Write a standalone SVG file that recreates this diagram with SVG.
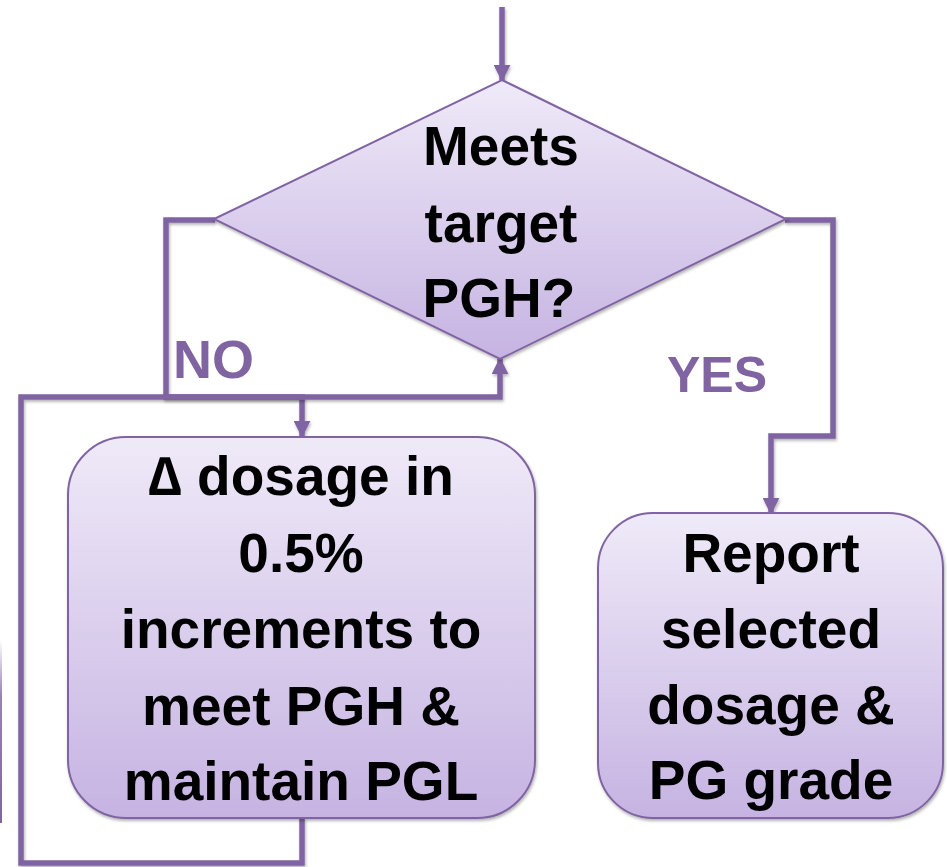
<svg xmlns="http://www.w3.org/2000/svg" width="947" height="867" viewBox="0 0 947 867">
  <defs>
    <linearGradient id="fillGrad" x1="0" y1="0" x2="0" y2="1">
      <stop offset="0" stop-color="#efeaf8"/>
      <stop offset="1" stop-color="#c6b3e2"/>
    </linearGradient>
    <linearGradient id="edgeGrad" gradientUnits="userSpaceOnUse" x1="0" y1="640" x2="0" y2="823">
      <stop offset="0" stop-color="#8064a2" stop-opacity="0"/>
      <stop offset="0.3" stop-color="#8064a2" stop-opacity="0.8"/>
      <stop offset="1" stop-color="#8064a2" stop-opacity="1"/>
    </linearGradient>
    <filter id="shadow" filterUnits="userSpaceOnUse" x="0" y="0" width="947" height="867">
      <feDropShadow dx="1" dy="2" stdDeviation="1.5" flood-color="#000" flood-opacity="0.3"/>
    </filter>
    <marker id="arrow" viewBox="0 0 10 10" refX="9" refY="5" markerWidth="17" markerHeight="17" orient="auto" markerUnits="userSpaceOnUse">
      <path d="M0,0 L10,5 L0,10 z" fill="#8064a2"/>
    </marker>
    <style>
      .shape { fill: url(#fillGrad); stroke: #8064a2; stroke-width: 2; filter: url(#shadow); }
      .conn { fill: none; stroke: #8064a2; stroke-width: 5.5; stroke-linejoin: miter; filter: url(#shadow); }
      .txt { font-family: "Liberation Sans", Arial, sans-serif; font-weight: bold; font-size: 55px; fill: #000; text-anchor: middle; }
      .lbl { font-family: "Liberation Sans", Arial, sans-serif; font-weight: bold; fill: #8064a2; }
    </style>
  </defs>

  <rect width="947" height="867" fill="#ffffff"/>

  <!-- cut-off edge of a shape at the left border -->
  <path d="M1,640 L1,823" stroke="url(#edgeGrad)" stroke-width="2" fill="none"/>

  <g id="connectors">
    <!-- incoming from top -->
    <path class="conn" d="M502,7 L502,80" marker-end="url(#arrow)"/>
    <!-- NO branch -->
    <path class="conn" d="M215,220 L166,220 L166,397 L302,397 L302,436" marker-end="url(#arrow)"/>
    <!-- loop back -->
    <path class="conn" d="M302,818 L302,863 L21,863 L21,397 L500,397 L500,359" marker-end="url(#arrow)"/>
    <!-- YES branch -->
    <path class="conn" d="M785,220 L833,220 L833,436 L771,436 L771,513" marker-end="url(#arrow)"/>
  </g>

  <g id="decision">
    <polygon class="shape" points="502,80 786,219 500,359 214,219"/>
    <text class="txt" font-size="56" x="501" y="165">Meets</text>
    <text class="txt" font-size="56" x="501" y="242">target</text>
    <text class="txt" font-size="56" x="499" y="317">PGH?</text>
  </g>

  <g id="adjust">
    <rect class="shape" x="68" y="437" width="467" height="381" rx="58" ry="58"/>
    <text class="txt" x="301" y="495">∆ dosage in</text>
    <text class="txt" x="301" y="572">0.5%</text>
    <text class="txt" x="301" y="648">increments to</text>
    <text class="txt" x="301" y="725">meet PGH &amp;</text>
    <text class="txt" x="301" y="800">maintain PGL</text>
  </g>

  <g id="report">
    <rect class="shape" x="598" y="513" width="345" height="305" rx="55" ry="55"/>
    <text class="txt" x="771" y="572">Report</text>
    <text class="txt" x="771" y="648">selected</text>
    <text class="txt" x="771" y="724">dosage &amp;</text>
    <text class="txt" x="771" y="799">PG grade</text>
  </g>

  <g id="labels">
    <text class="lbl" font-size="54" x="173" y="378">NO</text>
    <text class="lbl" font-size="50" x="667" y="392">YES</text>
  </g>
</svg>
